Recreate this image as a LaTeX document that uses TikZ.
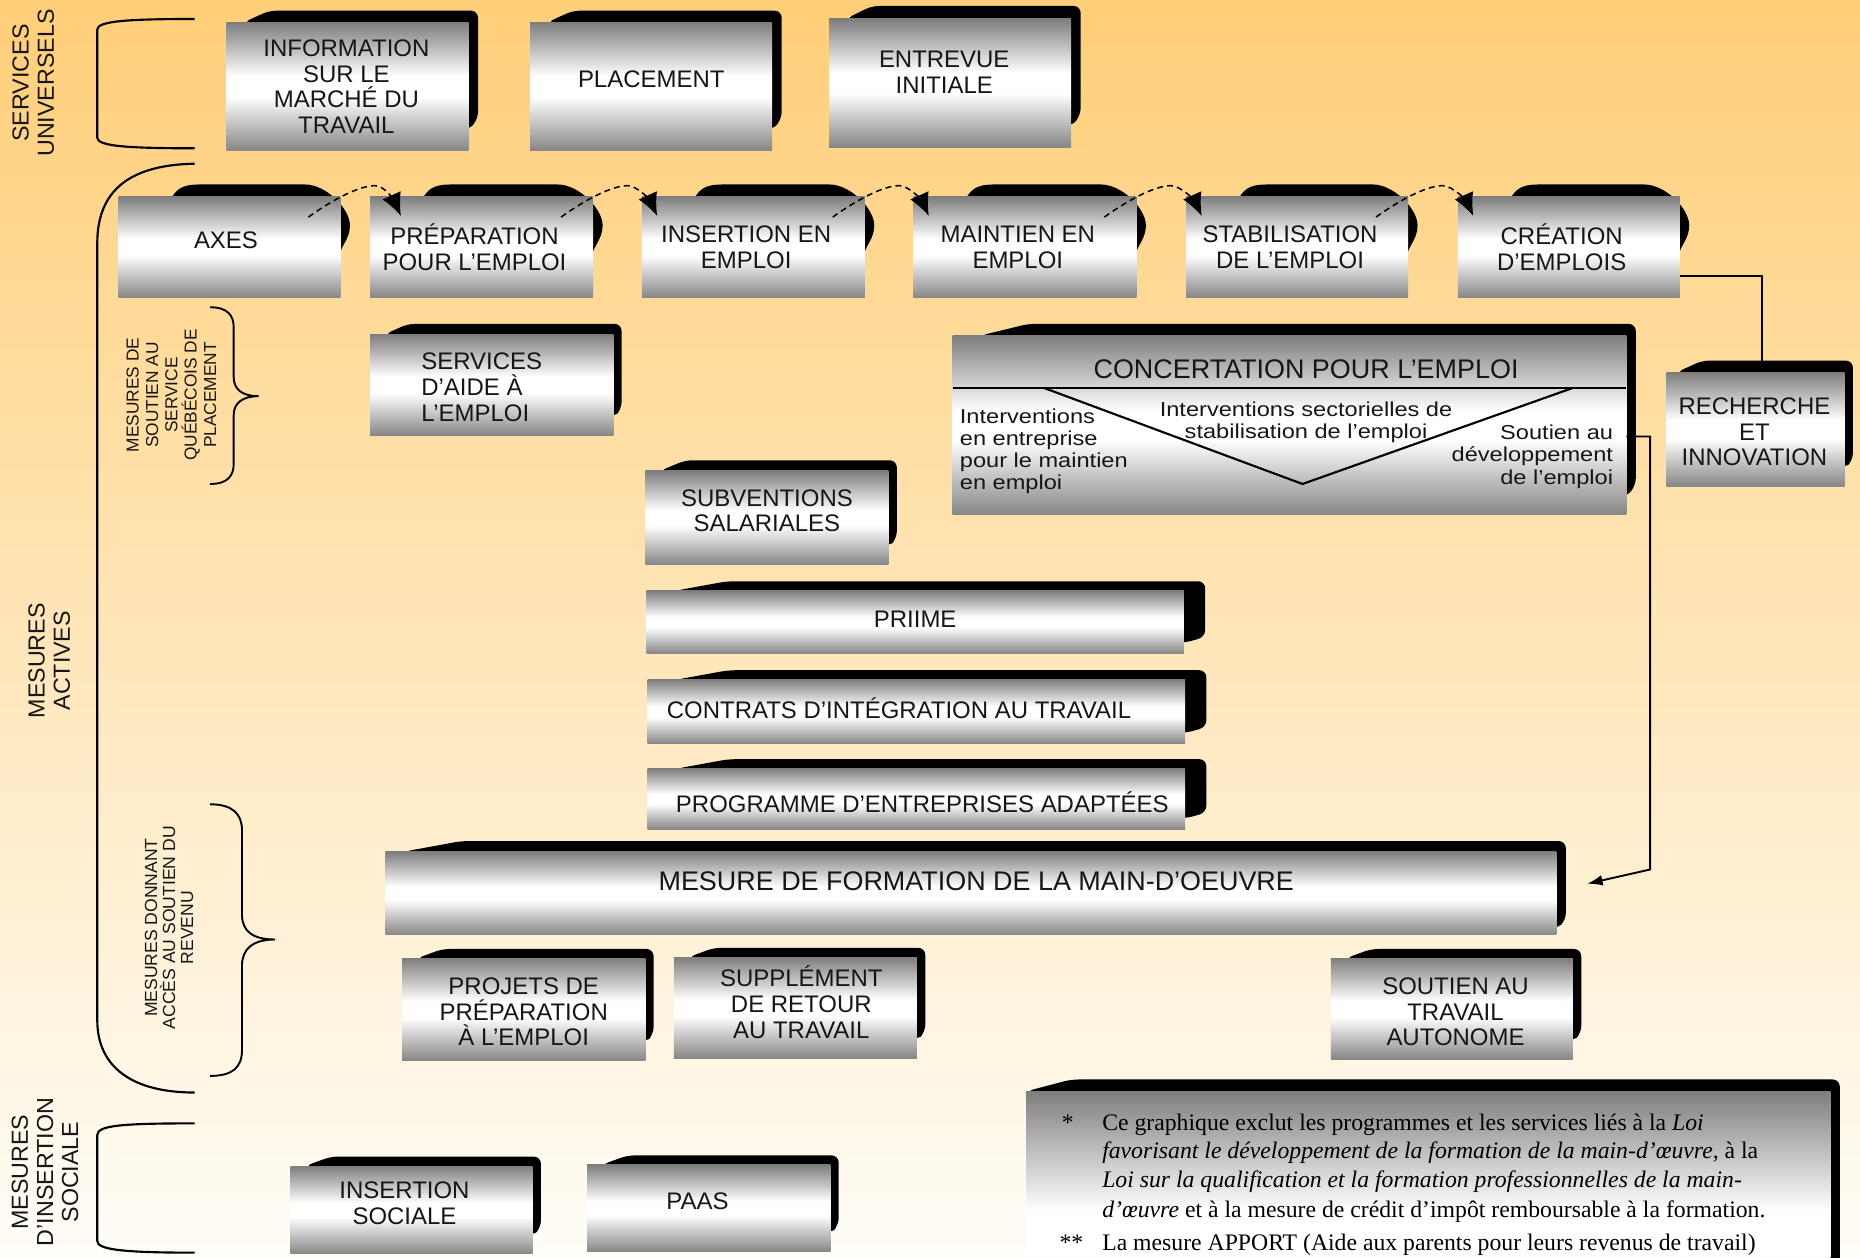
\documentclass[tikz,border=0pt]{standalone}
\usepackage{fontspec}
\setmainfont{Liberation Serif}
\newfontfamily\sansf{Liberation Sans}
\newfontfamily\sanswide[FakeStretch=1.17]{Liberation Sans}
\usetikzlibrary{calc,arrows.meta}
\definecolor{bgtop}{RGB}{255,206,120}
\definecolor{bgbot}{RGB}{255,253,248}
\definecolor{mgt}{RGB}{126,126,126}
\definecolor{mgb}{RGB}{134,134,134}
\definecolor{txt}{RGB}{22,22,22}
\pgfdeclareverticalshading{metal}{100bp}{color(0bp)=(mgb); color(25bp)=(mgb); color(46bp)=(white); color(54bp)=(white); color(75bp)=(mgt); color(100bp)=(mgt)}
\pgfdeclarelayer{bglayer}
\pgfdeclarelayer{shadlayer}
\pgfsetlayers{bglayer,shadlayer,main}
\tikzset{
 mbox/.style={shade, shading=metal, inner sep=0pt, outer sep=0pt},
 btext/.style={align=center, inner sep=0pt, text=txt, font=\sansf\fontsize{20.2}{21.7}\selectfont},
 shadowc/.style={fill=black},
 conn/.style={draw=black, line width=1.6pt},
 bracket/.style={draw=black, line width=1.8pt},
 flow/.style={draw=black, line width=1.3pt, dash pattern=on 5pt off 3.5pt, -{Latex[length=19pt,width=17pt]}},
 sidelabel/.style={rotate=90, align=center, inner sep=0pt, text=txt, font=\sansf\fontsize{19.6}{21.2}\selectfont},
 smalllabel/.style={rotate=90, align=center, inner sep=0pt, text=txt},
 lowtext/.style={inner sep=0pt, text=txt, font=\sanswide\fontsize{17}{18.7}\selectfont},
 notetext/.style={inner sep=0pt, anchor=base west, text=black, font=\fontsize{20}{24.3}\selectfont},
}
\newcommand\mkframe[5]{\node[mbox, minimum width={(#4-#2)*1pt}, minimum height={(#5-#3)*1pt}] (#1) at ({(#2+#4)/2},{(#3+#5)/2}) {};}
\newcommand\mkbox[8]{\mkframe{#1}{#2}{#3}{#4}{#5}\node[btext] (#1T) at ($(#1.center)+(#6,#7)$) {#8};}
\newcommand\mkshadow[7]{\fill[shadowc, rounded corners=6pt] ($(#1.north west)+(#4,0)$) -- ($(#1.north west)+(#5,-#3)$) -- ($(#1.north east)+(#2,-#3)$) -- ($(#1.south east)+(#2,-#6)$) -- ($(#1.south east)+(0,-#7)$) -- cycle;}
\newcommand\mkblob[1]{\fill[shadowc] ($(#1.north west)+(45,0)$) .. controls +(5,-8) and +(-12,0) .. ($(#1.north west)+(68,-10.5)$) -- ($(#1.north east)+(-30,-10.5)$) .. controls +(18,0) and +(0,-14) .. ($(#1.north east)+(8,24)$) .. controls +(0,10) and +(2,-6) .. ($(#1.north east)+(0,46)$) -- cycle;}
\newcommand\flowarrow[3]{\draw[flow] ($(#1.north east)+(-27,17)$) .. controls +(18,-13) and +(-14,0) .. ($(#1.north east)+(29,-9.5)$) .. controls +(9,0) and +(-5,-11) .. ($(#2.north west)+(#3,16)$);}
\begin{document}
\begin{tikzpicture}[x=1pt,y=-1pt]
\useasboundingbox (0,0) rectangle (1568,1060);
\begin{pgfonlayer}{bglayer}
\shade[top color=bgtop,bottom color=bgbot] (0,0) rectangle (1568,1060);
\end{pgfonlayer}

% ---- boxes ----
\mkbox{info}{191}{19}{395}{127}{-1}{0}{INFORMATION\\SUR LE\\MARCHÉ DU\\TRAVAIL}
\mkbox{plac}{447}{19}{651}{127}{0}{-6}{PLACEMENT}
\mkbox{entr}{699}{16}{903}{124}{-5}{-9}{ENTREVUE\\INITIALE}
\mkbox{axes}{100}{166}{287}{251}{-3}{-6}{AXES}
\mkbox{prep}{312}{166}{500}{251}{-6}{0}{PRÉPARATION\\POUR L’EMPLOI}
\mkbox{ins}{541}{166}{729}{251}{-6}{0}{INSERTION EN\\EMPLOI}
\mkbox{maint}{770}{166}{958}{251}{-6}{0}{MAINTIEN EN\\EMPLOI}
\mkbox{stab}{1000}{166}{1187}{251}{-6}{0}{STABILISATION\\DE L’EMPLOI}
\mkbox{crea}{1229}{166}{1416}{251}{-6}{0}{CRÉATION\\D’EMPLOIS}
\mkbox{rech}{1405}{314}{1555}{410}{-1}{2}{RECHERCHE\\ET\\INNOVATION}
\mkframe{sae}{312}{282}{517}{367}
\node[btext, align=left, anchor=west] (saeT) at (355,326.5) {SERVICES\\D’AIDE À\\L’EMPLOI};
\mkbox{subv}{544}{397}{749}{476}{0}{-6}{SUBVENTIONS\\SALARIALES}
\mkframe{conc}{803}{283}{1371}{434}
\mkbox{priime}{545}{498}{998}{551}{0}{-2.5}{PRIIME}
\mkframe{contrats}{546}{573}{999}{627}
\node[btext, anchor=west] (contratsT) at (562,597) {CONTRATS D’INTÉGRATION AU TRAVAIL};
\mkbox{prog}{546}{648}{999}{699}{5}{2.5}{PROGRAMME D’ENTREPRISES ADAPTÉES}
\mkframe{form}{325}{718}{1312}{788}
\node[btext, font=\sansf\fontsize{22.7}{24}\selectfont] (formT) at (823,743) {MESURE DE FORMATION DE LA MAIN-D’OEUVRE};
\mkbox{projets}{339}{808}{544}{894}{0}{2}{PROJETS DE\\PRÉPARATION\\À L’EMPLOI}
\mkbox{suppl}{568}{807}{773}{892}{5}{-4.5}{SUPPLÉMENT\\DE RETOUR\\AU TRAVAIL}
\mkbox{soutien}{1122}{808}{1326}{893}{3}{2.5}{SOUTIEN AU\\TRAVAIL\\AUTONOME}
\mkbox{inssoc}{245}{983}{449}{1057}{-6}{-5.5}{INSERTION\\SOCIALE}
\mkbox{paas}{495}{982}{700}{1055}{-9.5}{-5.5}{PAAS}
\mkframe{note}{865}{920}{1543}{1160}

% ---- shadows ----
\begin{pgfonlayer}{shadlayer}
\mkshadow{info}{8}{10}{14}{36}{27}{17}
\mkshadow{plac}{8}{10}{14}{36}{27}{17}
\mkshadow{entr}{8}{11}{14}{36}{27}{17}
\mkblob{axes}\mkblob{prep}\mkblob{ins}\mkblob{maint}\mkblob{stab}\mkblob{crea}
\mkshadow{rech}{7}{10}{8}{30}{22}{15}
\mkshadow{sae}{7}{9}{12}{32}{22}{15}
\mkshadow{subv}{7}{9}{12}{34}{22}{15}
\mkshadow{conc}{8}{10}{23}{64}{25}{15}
\mkshadow{priime}{18}{8}{24}{68}{14}{9}
\mkshadow{contrats}{18}{8}{24}{68}{14}{9}
\mkshadow{prog}{18}{8}{24}{68}{14}{9}
\mkshadow{form}{8}{9}{15}{64}{12}{5}
\mkshadow{projets}{7}{8}{12}{34}{22}{15}
\mkshadow{suppl}{7}{8}{12}{34}{22}{15}
\mkshadow{soutien}{7}{8}{12}{34}{22}{15}
\mkshadow{inssoc}{7}{8}{12}{34}{22}{15}
\mkshadow{paas}{7}{8}{12}{34}{22}{15}
\mkshadow{note}{8}{10}{0}{38}{30}{20}
\end{pgfonlayer}

% ---- concertation content ----
\draw[line width=1.8pt] ($(conc.north west)+(0,44)$) -- ($(conc.north east)+(0,44)$);
\draw[line width=1.8pt] ($(conc.north west)+(77,44)$) -- ($(conc.north west)+(295,125)$) -- ($(conc.north west)+(523,44)$);
\node[btext, font=\sansf\fontsize{22.7}{24}\selectfont] (concT) at ($(conc.north west)+(298,28)$) {CONCERTATION POUR L’EMPLOI};
\node[lowtext, align=left, anchor=west] (concL) at ($(conc.north west)+(6,97.5)$) {Interventions\\en entreprise\\pour le maintien\\en emploi};
\node[lowtext, align=center] (concM) at ($(conc.north west)+(298,73)$) {Interventions sectorielles de\\stabilisation de l’emploi};
\node[lowtext, align=right, anchor=east] (concR) at ($(conc.north east)+(-11,102)$) {Soutien au\\développement\\de l’emploi};

% ---- note ----
\node[notetext] (star1) at (895,953) {*};
\node[notetext] (note1) at (929,953) {Ce graphique exclut les programmes et les services liés à la \textit{Loi}};
\node[notetext] (note2) at (929,977) {\textit{favorisant le développement de la formation de la main-d’œuvre}, à la};
\node[notetext] (note3) at (929,1001) {\textit{Loi sur la qualification et la formation professionnelles de la main-}};
\node[notetext] (note4) at (929,1026) {\textit{d’œuvre} et à la mesure de crédit d’impôt remboursable à la formation.};
\node[notetext] (star2) at (893,1054.5) {**};
\node[notetext] (note5) at (929,1054.5) {La mesure APPORT (Aide aux parents pour leurs revenus de travail)};

% ---- connectors ----
\flowarrow{axes}{prep}{26}
\flowarrow{prep}{ins}{13}
\flowarrow{ins}{maint}{13}
\flowarrow{maint}{stab}{13}
\flowarrow{stab}{crea}{13}
\draw[conn] ($(crea.south east)+(0,-18)$) -| ($(rech.north)+(5,-10)$);
\coordinate (formin) at ($(form.east)+(26,-8)$);
\draw[conn, -{Latex[length=13pt,width=9pt]}] ($(conc.east)+(0,9.5)$) -| ($(form.north east)+(79,15)$) -- (formin);

% ---- brackets ----
\draw[bracket] (164,16) .. controls (105,16) and (82,18) .. (82,25) -- (82,116) .. controls (82,123) and (105,125) .. (164,125);
\draw[bracket] (164,138) .. controls (110,139) and (82,160) .. (82,205) -- (82,860) .. controls (82,900) and (112,921) .. (164,921);
\draw[bracket] (164,947) .. controls (100,947) and (82,949) .. (82,957) -- (82,1046) .. controls (82,1053) and (100,1056) .. (164,1056);
\draw[bracket, line width=1.6pt] (177,259) .. controls (192,259) and (197,266) .. (197,276) -- (197,318) .. controls (197,328) and (204,334) .. (218,334) .. controls (204,334) and (197,340) .. (197,350) -- (197,391) .. controls (197,401) and (192,408) .. (177,408);
\draw[bracket, line width=1.6pt] (177,678) .. controls (196,678) and (204,686) .. (204,700) -- (204,771) .. controls (204,785) and (213,792) .. (232,792) .. controls (213,792) and (204,800) .. (204,814) -- (204,885) .. controls (204,900) and (196,907) .. (177,907);

% ---- side labels ----
\node[sidelabel] (lblSU) at (28,70) {SERVICES\\UNIVERSELS};
\node[sidelabel] (lblMA) at (41.5,557) {MESURES\\ACTIVES};
\node[sidelabel] (lblMIS) at (38,988) {MESURES\\D’INSERTION\\SOCIALE};
\node[smalllabel, font=\sansf\fontsize{14.6}{16.3}\selectfont] (lblQ) at (144.5,333) {MESURES DE\\SOUTIEN AU\\SERVICE\\QUÉBÉCOIS DE\\PLACEMENT};
\node[smalllabel, font=\sansf\fontsize{14.8}{15.2}\selectfont] (lblR) at (142.5,782) {MESURES DONNANT\\ACCÈS AU SOUTIEN DU\\REVENU};
\end{tikzpicture}
\end{document}
